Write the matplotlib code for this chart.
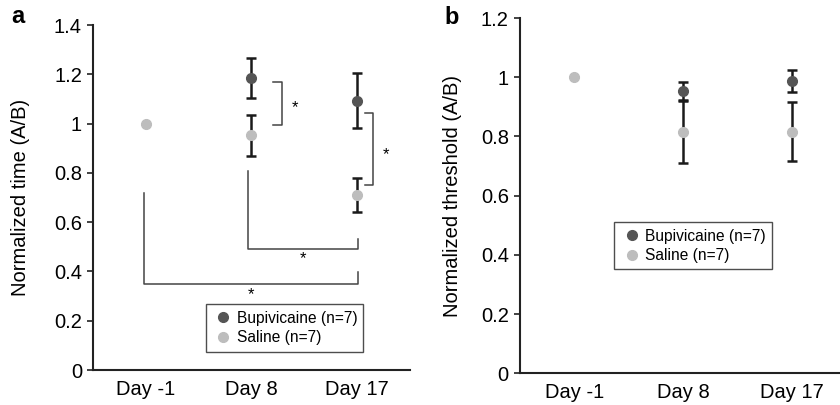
import matplotlib.pyplot as plt

plt.rcParams['font.family'] = ['Liberation Sans', 'DejaVu Sans']

days = ["Day -1", "Day 8", "Day 17"]

# panel a: normalized time
time_bupi = [None, 1.185, 1.093]
time_bupi_err = [None, 0.082, 0.112]
time_sal = [1.0, 0.953, 0.710]
time_sal_err = [None, 0.083, 0.068]

# panel b: normalized threshold
thr_bupi = [None, 0.954, 0.987]
thr_bupi_err = [None, 0.031, 0.037]
thr_sal = [1.0, 0.816, 0.816]
thr_sal_err = [None, 0.105, 0.100]

dark = '#555555'
light = '#bdbdbd'
ecol = '#1a1a1a'

fig = plt.figure(figsize=(8.4, 4.05), dpi=100)
ax1 = fig.add_axes([0.1107, 0.0864, 0.3774, 0.8518])
ax2 = fig.add_axes([0.619, 0.0783, 0.389, 0.877])


def draw(ax, bupi, bupi_err, sal, sal_err):
    for i in range(len(days)):
        if sal_err[i] is not None:
            ax.errorbar(i, sal[i], yerr=sal_err[i], fmt='none', ecolor=ecol,
                        elinewidth=1.8, capsize=3.5, capthick=1.8, zorder=2)
        if bupi[i] is not None:
            ax.errorbar(i, bupi[i], yerr=bupi_err[i], fmt='none', ecolor=ecol,
                        elinewidth=1.8, capsize=3.5, capthick=1.8, zorder=2)
    xs = [i for i in range(len(days)) if bupi[i] is not None]
    ax.plot(xs, [bupi[i] for i in xs], 'o', color=dark, ms=7, ls='none',
            label='Bupivicaine (n=7)', zorder=3)
    ax.plot(range(len(days)), sal, 'o', color=light, ms=7, ls='none',
            label='Saline (n=7)', zorder=3)
    ax.set_xlim(-0.5, 2.5)
    ax.set_xticks(range(len(days)))
    ax.set_xticklabels(days)
    ax.tick_params(axis='x', length=0, labelsize=14.5, pad=7)
    ax.tick_params(axis='y', length=4, width=1.2, labelsize=14.5, pad=4,
                   color='#222222')
    for s in ['top', 'right']:
        ax.spines[s].set_visible(False)
    for s in ['left', 'bottom']:
        ax.spines[s].set_linewidth(1.5)
        ax.spines[s].set_color('#222222')


def fmt(v, pos):
    return '%d' % v if abs(v - round(v)) < 1e-9 else '%.1f' % v


draw(ax1, time_bupi, time_bupi_err, time_sal, time_sal_err)
ax1.set_ylim(0, 1.4)
ax1.set_yticks([0, 0.2, 0.4, 0.6, 0.8, 1.0, 1.2, 1.4])
ax1.yaxis.set_major_formatter(plt.FuncFormatter(fmt))
ax1.set_ylabel('Normalized time (A/B)', fontsize=14.5)
ax1.yaxis.set_label_coords(-0.2, 0.5)

bc = '#444444'
# significance brackets, panel a
ax1.plot([1.2, 1.29, 1.29, 1.2], [1.17, 1.17, 0.993, 0.993], color=bc, lw=1.1)
ax1.text(1.41, 1.065, '*', ha='center', va='center', fontsize=12)
ax1.plot([2.07, 2.15, 2.15, 2.07], [1.042, 1.042, 0.75, 0.75], color=bc, lw=1.1)
ax1.text(2.27, 0.875, '*', ha='center', va='center', fontsize=12)
ax1.plot([0.97, 0.97, 2.01, 2.01], [0.809, 0.49, 0.49, 0.532], color=bc, lw=1.1)
ax1.text(1.49, 0.45, '*', ha='center', va='center', fontsize=12)
ax1.plot([-0.02, -0.02, 2.01, 2.01], [0.72, 0.349, 0.349, 0.399], color=bc, lw=1.1)
ax1.text(0.995, 0.305, '*', ha='center', va='center', fontsize=12)

leg1 = ax1.legend(loc='upper left', bbox_to_anchor=(0.355, 0.19), frameon=True,
                  fancybox=False, edgecolor='#222222', fontsize=11.2,
                  handletextpad=0.1, borderpad=0.4, labelspacing=0.3,
                  handlelength=1.5, borderaxespad=0)
leg1.get_frame().set_linewidth(1.0)

draw(ax2, thr_bupi, thr_bupi_err, thr_sal, thr_sal_err)
ax2.set_ylim(0, 1.2)
ax2.set_yticks([0, 0.2, 0.4, 0.6, 0.8, 1.0, 1.2])
ax2.yaxis.set_major_formatter(plt.FuncFormatter(fmt))
ax2.set_ylabel('Normalized threshold (A/B)', fontsize=14.5)
ax2.yaxis.set_label_coords(-0.177, 0.5)
leg2 = ax2.legend(loc='upper left', bbox_to_anchor=(0.288, 0.425), frameon=True,
                  fancybox=False, edgecolor='#222222', fontsize=11.2,
                  handletextpad=0.1, borderpad=0.4, labelspacing=0.3,
                  handlelength=1.5, borderaxespad=0)
leg2.get_frame().set_linewidth(1.0)

fig.text(0.013, 0.96, 'a', fontsize=17, fontweight='bold', va='center')
fig.text(0.529, 0.957, 'b', fontsize=17, fontweight='bold', va='center')

fig.savefig('out.png', dpi=100)
